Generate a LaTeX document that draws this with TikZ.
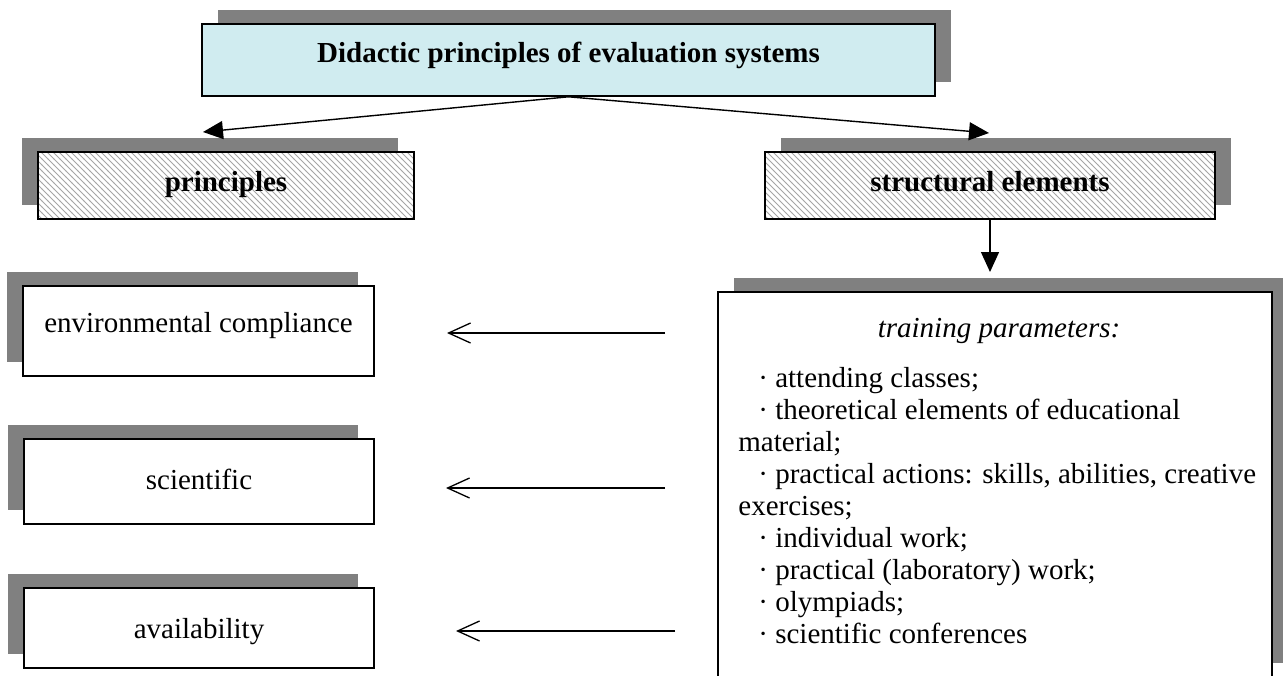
\documentclass[tikz,border=0pt]{standalone}
\usepackage{fontspec}
\setmainfont{Liberation Serif}
\usetikzlibrary{arrows.meta,patterns,shadows}
\definecolor{shgray}{RGB}{128,128,128}
\definecolor{topfill}{RGB}{208,236,240}
\definecolor{hatchgray}{RGB}{165,165,165}
\begin{document}
\begin{tikzpicture}[x=0.5pt,y=-0.5pt,
  every node/.style={font=\fontsize{14.5}{16}\selectfont, inner sep=0pt},
  tb/.style={text height=10pt, text depth=#1},
  boxbase/.style={rectangle, draw, line width=0.8pt},
  shR/.style={drop shadow={opacity=1, fill=shgray, shadow xshift=8pt, shadow yshift=7.25pt}},
  shL/.style={drop shadow={opacity=1, fill=shgray, shadow xshift=-8pt, shadow yshift=7.25pt}},
  topbox/.style={boxbase, shR, fill=topfill},
  hatchR/.style={boxbase, shR, preaction={fill=white}, pattern=north west lines, pattern color=hatchgray},
  hatchL/.style={boxbase, shL, preaction={fill=white}, pattern=north west lines, pattern color=hatchgray},
  whiteL/.style={boxbase, shL, fill=white},
  whiteR/.style={boxbase, shR, fill=white},
  tri/.style={line width=0.7pt, -{Triangle[length=10pt,width=9pt]}},
  barb/.style={line width=0.65pt, -{Straight Barb[length=11pt,width=10pt]}}
]
\clip (0,0) rectangle (1283,675);

\node[topbox, tb=8pt, minimum width=366.5pt, minimum height=36pt] (top) at (568.5,60)
  {\bfseries Didactic principles of evaluation systems};

\node[hatchL, tb=4pt, minimum width=188pt, minimum height=33.5pt] (pr) at (226,185.5)
  {\bfseries principles};
\node[hatchR, tb=4pt, minimum width=225pt, minimum height=33.5pt] (se) at (990,185.5)
  {\bfseries structural elements};

\node[whiteL, tb=9pt, minimum width=175.5pt, minimum height=45pt] (env) at (198.5,331)
  {environmental compliance};
\node[whiteL, tb=2.5pt, minimum width=175pt, minimum height=42.5pt] (sci) at (199,481.5)
  {scientific};
\node[whiteL, tb=0pt, minimum width=175pt, minimum height=40pt] (av) at (199,628)
  {availability};

\node[whiteR, minimum width=277pt, minimum height=192.5pt] (big) at (995,484.5) {};
\node[anchor=base] (tp) at (999,337) {\itshape training parameters:};
\node[anchor=base west, align=left] (tl) at (738,643)
  {\hspace*{10pt}· attending classes;\\
   \hspace*{10pt}· theoretical elements of educational\\
   material;\\
   \hspace*{10pt}· practical actions: skills, abilities, creative\\
   exercises;\\
   \hspace*{10pt}· individual work;\\
   \hspace*{10pt}· practical (laboratory) work;\\
   \hspace*{10pt}· olympiads;\\
   \hspace*{10pt}· scientific conferences};

\coordinate (pl) at (203,132);
\coordinate (pr2) at (989,133);
\coordinate (bt) at (990,272);
\draw[tri] (top.south) -- (pl);
\draw[tri] (top.south) -- (pr2);
\draw[tri] (se.south) -- (bt);

\coordinate (a1s) at (665,333);
\coordinate (a1e) at (447,333);
\coordinate (a2s) at (665,488);
\coordinate (a2e) at (446,488);
\coordinate (a3s) at (675,631);
\coordinate (a3e) at (456,631);
\draw[barb] (a1s) -- (a1e);
\draw[barb] (a2s) -- (a2e);
\draw[barb] (a3s) -- (a3e);
\end{tikzpicture}
\end{document}
